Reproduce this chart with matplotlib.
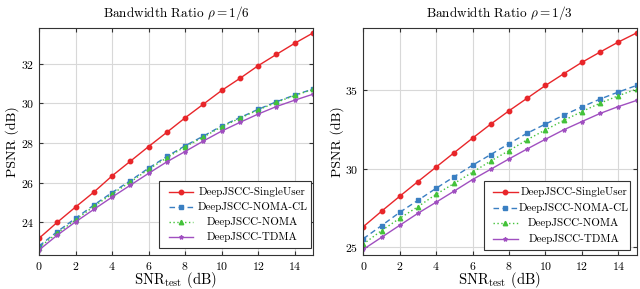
import matplotlib
matplotlib.use("Agg")
import matplotlib.pyplot as plt
from matplotlib.lines import Line2D
from matplotlib.patches import Rectangle

plt.rcParams['font.family'] = ['cmr10', 'DejaVu Serif']
plt.rcParams['mathtext.fontset'] = 'cm'
plt.rcParams['axes.formatter.use_mathtext'] = True

snr = list(range(16))

# rho = 1/6
su_16 = [23.19, 24.0, 24.77, 25.52, 26.34, 27.08, 27.82, 28.54, 29.27, 29.96, 30.65, 31.26, 31.9, 32.47, 33.03, 33.55]
cl_16 = [22.8, 23.53, 24.2, 24.87, 25.5, 26.1, 26.73, 27.32, 27.86, 28.35, 28.86, 29.28, 29.7, 30.08, 30.42, 30.72]
noma_16 = [22.72, 23.45, 24.12, 24.8, 25.43, 26.03, 26.67, 27.26, 27.81, 28.3, 28.82, 29.25, 29.67, 30.05, 30.4, 30.7]
tdma_16 = [22.6, 23.35, 24.02, 24.65, 25.27, 25.87, 26.47, 27.05, 27.57, 28.1, 28.6, 29.04, 29.46, 29.84, 30.16, 30.46]

# rho = 1/3
su_13 = [26.28, 27.27, 28.23, 29.17, 30.1, 31.03, 31.95, 32.85, 33.7, 34.51, 35.32, 36.07, 36.8, 37.46, 38.1, 38.68]
cl_13 = [25.51, 26.35, 27.2, 27.97, 28.74, 29.49, 30.22, 30.9, 31.6, 32.27, 32.85, 33.42, 33.95, 34.45, 34.9, 35.32]
noma_13 = [25.17, 26.03, 26.82, 27.56, 28.36, 29.06, 29.77, 30.49, 31.15, 31.85, 32.48, 33.08, 33.65, 34.19, 34.66, 35.09]
tdma_13 = [24.83, 25.6, 26.37, 27.14, 27.85, 28.57, 29.3, 29.96, 30.62, 31.26, 31.88, 32.48, 33.01, 33.53, 33.97, 34.36]

labels = ['DeepJSCC-SingleUser', 'DeepJSCC-NOMA-CL', 'DeepJSCC-NOMA', 'DeepJSCC-TDMA']
styles = [
    dict(color='#e8262a', ls='-', marker='o', ms=3.2),
    dict(color='#3a7fc2', ls=(0, (4, 2.5)), marker='s', ms=3.2),
    dict(color='#44c23a', ls=(0, (1, 1.8)), marker='^', ms=3.2),
    dict(color='#a04fc0', ls='-', marker='*', ms=3.0),
]

fig = plt.figure(figsize=(6.4, 2.89), dpi=100)
ax1 = fig.add_axes([39/640, 34/289, (313-39)/640, 227/289])
ax2 = fig.add_axes([363.3/640, 34/289, (636.5-363.3)/640, 227/289])

def draw(ax, data, title, ylim, yticks, legbox):
    for y, st in zip(data, styles):
        ax.plot(snr, y, lw=1.0, **st)
    ax.set_xlim(0, 15)
    ax.set_ylim(*ylim)
    ax.set_xticks(range(0, 15, 2))
    ax.set_yticks(yticks)
    ax.grid(True, color='#d8d8d8', lw=0.8)
    ax.set_axisbelow(True)
    ax.tick_params(direction='in', length=3, labelsize=8.5, top=True, right=True, colors='#333333', labelcolor='black')
    for s in ax.spines.values():
        s.set_linewidth(0.8)
        s.set_color('#333333')
    ax.set_title(title, fontsize=9.5, pad=8)
    ax.set_xlabel(r'SNR$_{\mathrm{test}}$ (dB)', fontsize=10.5, labelpad=-1)
    ax.set_ylabel('PSNR (dB)', fontsize=10, labelpad=1)
    # legend drawn manually with centred entry text
    x0, y0, x1, y1 = legbox
    ax.add_patch(Rectangle((x0, y0), x1 - x0, y1 - y0, transform=ax.transAxes,
                           facecolor='white', edgecolor='#333333', lw=0.8, zorder=5))
    h = (y1 - y0)
    for i, (lab, st) in enumerate(zip(labels, styles)):
        yc = y1 - h * (0.16 + 0.227 * i)
        lx0 = x0 + 0.035
        lx1 = x0 + 0.125
        ax.add_line(Line2D([lx0, (lx0 + lx1) / 2, lx1], [yc, yc, yc], transform=ax.transAxes,
                           color=st['color'], ls=st['ls'], lw=1.0, marker=st['marker'],
                           ms=st['ms'], markevery=[1], zorder=6))
        tc = (lx1 + x1) / 2 + 0.0
        ax.text(tc, yc, lab, transform=ax.transAxes, ha='center', va='center',
                fontsize=8.0, zorder=7)

draw(ax1, [su_16, cl_16, noma_16, tdma_16], r'Bandwidth Ratio $\rho = 1/6$',
     (22.35, 33.8), [24, 26, 28, 30, 32], (0.438, 0.03, 0.993, 0.327))
draw(ax2, [su_13, cl_13, noma_13, tdma_13], r'Bandwidth Ratio $\rho = 1/3$',
     (24.47, 39.0), [25, 30, 35], (0.44, 0.022, 0.975, 0.327))

fig.savefig('out.png', dpi=100)
